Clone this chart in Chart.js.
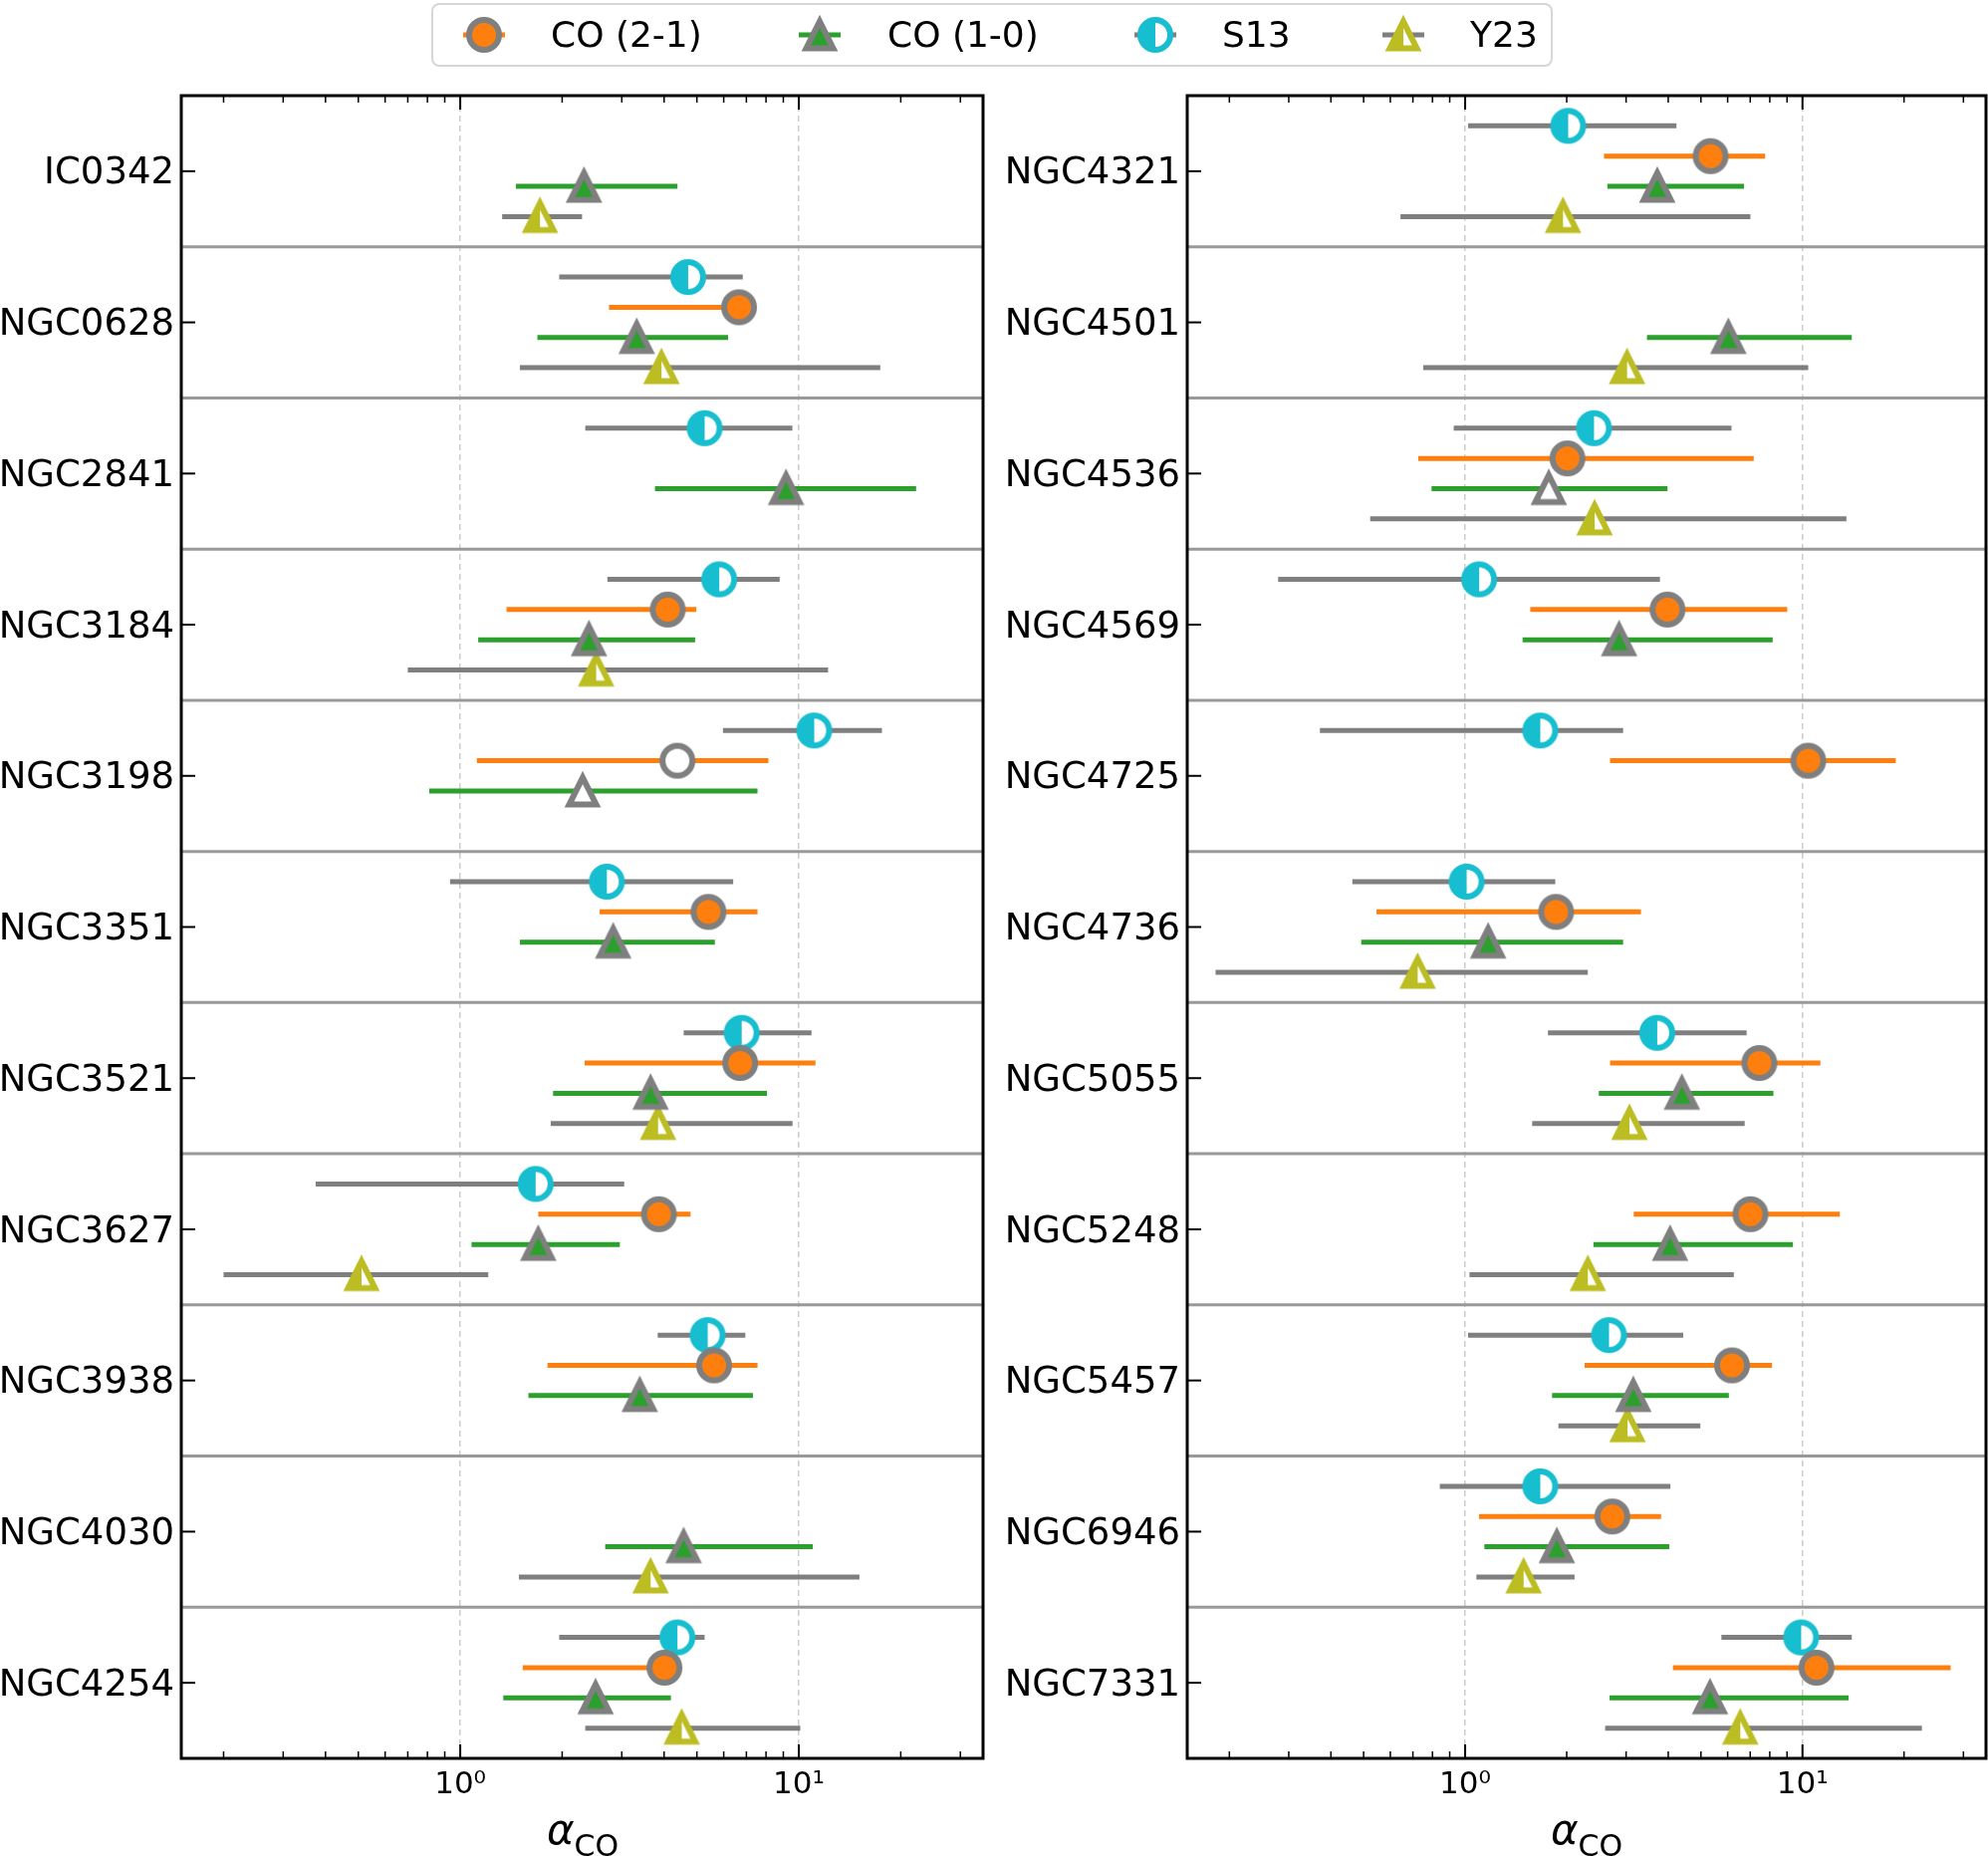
<!DOCTYPE html>
<html>
<head>
<meta charset="utf-8">
<script src="https://cdn.jsdelivr.net/npm/chart.js@4.4.1/dist/chart.umd.min.js"></script>
<style>
  html, body { margin: 0; padding: 0; background: #fff; }
  #fig { position: relative; width: 1996px; height: 1863px; overflow: hidden; font-family: 'DejaVu Sans', sans-serif; }
  canvas.panel { position: absolute; top: 0; }
  #legend { position: absolute; left: 433px; top: 3px; width: 1122px; height: 60px;
            border: 2px solid #d6d6d6; border-radius: 8px; background: #fff; }
  #legend canvas { position: absolute; top: 6px; }
  .item { position: absolute; top: 0; height: 60px; line-height: 60px; font-size: 36px; color: #000; white-space: nowrap; }
  .xlabel { position: absolute; top: 1812px; height: 60px; line-height: 50px; font-size: 42px;
            transform: translateX(-50%); white-space: nowrap; color: #000; }
  .xlabel i { font-style: italic; }
  .xlabel sub { font-size: 30px; vertical-align: -0.4em; line-height: 0; }
</style>
</head>
<body>
<div id="fig">
  <canvas id="left" class="panel" width="996" height="1863" style="left:0px"></canvas>
  <canvas id="right" class="panel" width="1000" height="1863" style="left:996px"></canvas>
  <div id="legend"></div>
  <div class="xlabel" style="left:585px"><i>α</i><sub>CO</sub></div>
  <div class="xlabel" style="left:1593px"><i>α</i><sub>CO</sub></div>
</div>
<script>
// galaxies, left panel then right panel
const galaxiesLeft = ['IC0342', 'NGC0628', 'NGC2841', 'NGC3184', 'NGC3198', 'NGC3351',
                      'NGC3521', 'NGC3627', 'NGC3938', 'NGC4030', 'NGC4254'];
const galaxiesRight = ['NGC4321', 'NGC4501', 'NGC4536', 'NGC4569', 'NGC4725', 'NGC4736',
                       'NGC5055', 'NGC5248', 'NGC5457', 'NGC6946', 'NGC7331'];
const galaxies = galaxiesLeft.concat(galaxiesRight);

// CO (2-1): value, lower and upper end of the error bar
const co21Val = [null, 6.66, null, 4.10, 4.38, 5.41, 6.71, 3.86, 5.62, null, 4.01,
                 5.34, null, 2.01, 3.98, 10.4, 1.86, 7.45, 7.01, 6.18, 2.73, 11.0];
const co21Lo  = [null, 2.75, null, 1.37, 1.12, 2.58, 2.33, 1.70, 1.81, null, 1.53,
                 2.58, null, 0.726, 1.56, 2.69, 0.546, 2.69, 3.16, 2.26, 1.10, 4.13];
const co21Hi  = [null, 6.9, null, 4.98, 8.13, 7.55, 11.2, 4.79, 7.55, null, 4.19,
                 7.75, null, 7.17, 9.01, 18.9, 3.32, 11.3, 12.9, 8.12, 3.81, 27.5];
// CO (1-0)
const co10Val = [2.32, 3.32, 9.17, 2.40, 2.30, 2.83, 3.65, 1.70, 3.39, 4.57, 2.51,
                 3.71, 6.03, 1.77, 2.86, null, 1.17, 4.39, 4.05, 3.15, 1.87, 5.32];
const co10Lo  = [1.46, 1.69, 3.76, 1.13, 0.81, 1.50, 1.88, 1.08, 1.59, 2.68, 1.34,
                 2.64, 3.46, 0.795, 1.48, null, 0.492, 2.49, 2.40, 1.81, 1.14, 2.68];
const co10Hi  = [4.38, 6.18, 22.2, 4.94, 7.55, 5.65, 8.05, 2.96, 7.32, 11.0, 4.19,
                 6.71, 14.0, 3.98, 8.16, null, 2.94, 8.20, 9.37, 6.05, 4.03, 13.7];
// S13
const s13Val = [null, 4.71, 5.27, 5.82, 11.1, 2.71, 6.78, 1.67, 5.38, null, 4.38,
                2.02, null, 2.41, 1.10, 1.67, 1.01, 3.71, null, 2.67, 1.67, 9.91];
const s13Lo  = [null, 1.96, 2.34, 2.72, 5.97, 0.933, 4.57, 0.374, 3.83, null, 1.96,
                1.02, null, 0.925, 0.279, 0.371, 0.463, 1.76, null, 1.02, 0.841, 5.75];
const s13Hi  = [null, 6.83, 9.57, 8.78, 17.6, 6.40, 10.9, 3.05, 6.95, null, 5.27,
                4.23, null, 6.16, 3.78, 2.94, 1.85, 6.83, null, 4.43, 4.06, 14.0];
// Y23
const y23Val = [1.72, 3.93, null, 2.52, null, null, 3.84, 0.511, null, 3.65, 4.51,
                1.95, 3.02, 2.42, null, null, 0.723, 3.07, 2.31, 3.03, 1.49, 6.54];
const y23Lo  = [1.33, 1.50, null, 0.70, null, null, 1.85, 0.200, null, 1.49, 2.34,
                0.643, 0.751, 0.523, null, null, 0.182, 1.58, 1.03, 1.89, 1.08, 2.60];
const y23Hi  = [2.29, 17.4, null, 12.2, null, null, 9.58, 1.21, null, 15.1, 10.1,
                7.01, 10.4, 13.5, null, null, 2.31, 6.74, 6.26, 4.98, 2.11, 22.6];

// points drawn with open (white) markers
const openCO21 = ['NGC3198'];
const openCO10 = ['NGC3198', 'NGC4536'];

// x axis ticks
const xTickValues = [1, 10];
const xTickLabels = ['10\u2070', '10\u00b9'];
const xMinorTicks = [0.2, 0.3, 0.4, 0.5, 0.6, 0.7, 0.8, 0.9, 2, 3, 4, 5, 6, 7, 8, 9, 20, 30];

Chart.defaults.font.family = "'DejaVu Sans', sans-serif";

var series = [
  { label: 'CO (2-1)', val: co21Val, lo: co21Lo, hi: co21Hi, open: openCO21, off: -0.1,
    shape: 'circle', fill: '#ff7f0e', edge: '#7f7f7f', bar: '#ff7f0e', half: false },
  { label: 'CO (1-0)', val: co10Val, lo: co10Lo, hi: co10Hi, open: openCO10, off: 0.1,
    shape: 'triangle', fill: '#2ca02c', edge: '#7f7f7f', bar: '#2ca02c', half: false },
  { label: 'S13', val: s13Val, lo: s13Lo, hi: s13Hi, open: [], off: -0.3,
    shape: 'circle', fill: '#17becf', edge: '#17becf', bar: '#7f7f7f', half: true },
  { label: 'Y23', val: y23Val, lo: y23Lo, hi: y23Hi, open: [], off: 0.3,
    shape: 'triangle', fill: '#bcbd22', edge: '#bcbd22', bar: '#7f7f7f', half: true },
];

function drawMarker(ctx, s, cx, cy, open) {
  ctx.save();
  ctx.beginPath();
  if (s.shape === 'circle') {
    ctx.arc(cx, cy, 15, 0, Math.PI * 2);
    ctx.lineWidth = 6;
  } else {
    var r = 13.5;
    ctx.moveTo(cx, cy - r);
    ctx.lineTo(cx + r, cy + r);
    ctx.lineTo(cx - r, cy + r);
    ctx.closePath();
    ctx.lineWidth = 6;
  }
  ctx.fillStyle = (open || s.half) ? '#ffffff' : s.fill;
  ctx.fill();
  if (s.half && !open) {
    ctx.save();
    ctx.clip();
    ctx.fillStyle = s.fill;
    ctx.fillRect(cx - 30, cy - 30, 30, 60);
    ctx.restore();
  }
  ctx.lineJoin = 'miter';
  ctx.miterLimit = 10;
  ctx.strokeStyle = s.edge;
  ctx.stroke();
  ctx.restore();
}

function markerImage(s, open) {
  var c = document.createElement('canvas');
  c.width = 52; c.height = 52;
  drawMarker(c.getContext('2d'), s, 26, 26, open);
  return c;
}

series.forEach(function (s) {
  s.img = markerImage(s, false);
  s.openImg = markerImage(s, true);
});

var framePlugin = {
  id: 'frame',
  beforeDatasetsDraw: function (chart) {
    var ctx = chart.ctx, a = chart.chartArea, y = chart.scales.y;
    var n = chart.options.scales.y.max + 0.5;
    ctx.save();
    ctx.strokeStyle = '#999999';
    ctx.lineWidth = 3;
    for (var i = 0; i < n - 1; i++) {
      var py = y.getPixelForValue(i + 0.5);
      ctx.beginPath();
      ctx.moveTo(a.left, py);
      ctx.lineTo(a.right, py);
      ctx.stroke();
    }
    ctx.restore();
  },
  afterDatasetsDraw: function (chart) {
    var ctx = chart.ctx, a = chart.chartArea, x = chart.scales.x, y = chart.scales.y;
    ctx.save();
    ctx.strokeStyle = '#000';
    ctx.lineWidth = 2;
    function xt(v, len) {
      var px = x.getPixelForValue(v);
      ctx.beginPath();
      ctx.moveTo(px, a.bottom); ctx.lineTo(px, a.bottom - len);
      ctx.moveTo(px, a.top); ctx.lineTo(px, a.top + len);
      ctx.stroke();
    }
    xTickValues.forEach(function (v) { xt(v, 14); });
    ctx.lineWidth = 1.5;
    xMinorTicks.forEach(function (v) { xt(v, 7); });
    ctx.lineWidth = 2;
    y.ticks.forEach(function (t) {
      var py = y.getPixelForValue(t.value);
      ctx.beginPath();
      ctx.moveTo(a.left, py); ctx.lineTo(a.left + 14, py);
      ctx.stroke();
    });
    ctx.lineWidth = 3;
    ctx.strokeRect(a.left, a.top, a.right - a.left, a.bottom - a.top);
    ctx.restore();
  }
};

function makePanel(id, from, to, yWidth, padRight) {
  var names = galaxies.slice(from, to);
  var datasets = [];
  series.forEach(function (s) {
    var bars = [], pts = [], styles = [];
    names.forEach(function (g, k) {
      var i = from + k;
      if (s.val[i] == null) return;
      var yv = k + s.off;
      bars.push({ x: s.lo[i], y: yv }, { x: s.hi[i], y: yv }, { x: s.hi[i], y: null });
      pts.push({ x: s.val[i], y: yv });
      styles.push(s.open.indexOf(g) >= 0 ? s.openImg : s.img);
    });
    datasets.push({
      type: 'line', label: s.label + ' err', data: bars, borderColor: s.bar, borderWidth: 5,
      pointRadius: 0, fill: false, spanGaps: false, tension: 0, order: 2
    });
    datasets.push({
      type: 'scatter', label: s.label, data: pts, pointStyle: styles,
      pointRadius: 16, pointHoverRadius: 16, order: 1
    });
  });

  return new Chart(id, {
    type: 'scatter',
    data: { datasets: datasets },
    plugins: [framePlugin],
    options: {
      responsive: false,
      animation: false,
      events: [],
      layout: { autoPadding: false, padding: { top: 96, right: padRight, bottom: 38, left: 0 } },
      plugins: { legend: { display: false }, tooltip: { enabled: false } },
      scales: {
        x: {
          type: 'logarithmic', min: 0.15, max: 35,
          afterBuildTicks: function (sc) { sc.ticks = xTickValues.map(function (v) { return { value: v }; }); },
          afterFit: function (sc) { sc.height = 60; },
          ticks: {
            autoSkip: false, maxRotation: 0, color: '#000', padding: 8,
            font: { size: 31 },
            callback: function (v) { return xTickLabels[xTickValues.indexOf(v)]; }
          },
          grid: { color: '#cccccc', lineWidth: 1.5, drawTicks: false },
          border: { display: false, dash: [6, 4] }
        },
        y: {
          type: 'linear', min: -0.5, max: names.length - 0.5, reverse: true,
          afterBuildTicks: function (sc) { sc.ticks = names.map(function (_, i) { return { value: i }; }); },
          afterFit: function (sc) { sc.width = yWidth; },
          ticks: {
            autoSkip: false, color: '#000', padding: 7, labelOffset: 3,
            font: { size: 37 },
            callback: function (v) { return names[v]; }
          },
          grid: { display: false, drawTicks: false },
          border: { display: false }
        }
      }
    }
  });
}

makePanel('left', 0, galaxiesLeft.length, 182, 9);
makePanel('right', galaxiesLeft.length, galaxies.length, 196, 2);

// legend
var legend = document.getElementById('legend');
var legendPos = [[51, 118], [388, 456], [725, 792], [974, 1041]];
series.forEach(function (s, i) {
  var c = document.createElement('canvas');
  c.width = 64; c.height = 48;
  c.style.left = (legendPos[i][0] - 32) + 'px';
  var ctx = c.getContext('2d');
  ctx.strokeStyle = s.bar;
  ctx.lineWidth = 5;
  ctx.beginPath();
  ctx.moveTo(32 - 21, 24); ctx.lineTo(32 + 21, 24);
  ctx.stroke();
  drawMarker(ctx, s, 32, 24, false);
  legend.appendChild(c);
  var t = document.createElement('div');
  t.className = 'item';
  t.style.left = legendPos[i][1] + 'px';
  t.textContent = s.label;
  legend.appendChild(t);
});
</script>
</body>
</html>
